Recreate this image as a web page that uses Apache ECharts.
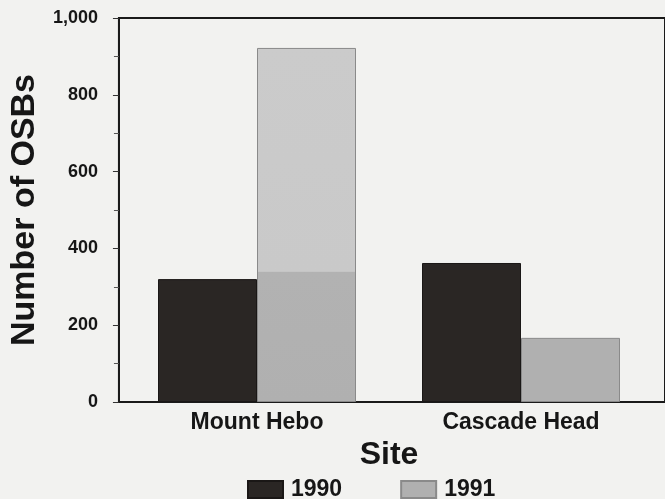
<!DOCTYPE html>
<html>
<head>
<meta charset="utf-8">
<script src="https://cdn.jsdelivr.net/npm/echarts@6/dist/echarts.min.js"></script>
<style>
html,body{margin:0;padding:0;background:#f2f2f0;}
#c{width:665px;height:499px;}
</style>
</head>
<body>
<div id="c"></div>
<script>
const sites = ['Mount Hebo', 'Cascade Head'];
const years = ['1990', '1991'];
const values1990 = [320, 362];
const values1991 = [922, 167];
const yTicks = [0, 200, 400, 600, 800, 1000];

const font = '"Liberation Sans", Arial, sans-serif';
const hatchTop = 340; // scan artefact: darker hatched band height on the tall bar

function bar1991Item(v) {
  if (v <= hatchTop) return { value: v };
  const stop = 1 - hatchTop / v;
  return {
    value: v,
    itemStyle: {
      color: {
        type: 'linear', x: 0, y: 0, x2: 0, y2: 1,
        colorStops: [
          { offset: 0, color: '#cbcbcb' },
          { offset: stop, color: '#c9c9c9' },
          { offset: stop + 0.001, color: '#b2b2b2' },
          { offset: 1, color: '#b0b0b0' }
        ]
      }
    }
  };
}

const chart = echarts.init(document.getElementById('c'));
chart.setOption({
  backgroundColor: '#f2f2f0',
  animation: false,
  grid: [
    { left: 117, right: -6, top: 18, bottom: 97, show: true, borderColor: '#1a1a1a', borderWidth: 2, backgroundColor: 'transparent' },
    { left: 125, right: 12, top: 18, bottom: 97 }
  ],
  xAxis: [
    { gridIndex: 0, type: 'value', show: false, min: 0, max: 1 },
    {
      gridIndex: 1, type: 'category', data: sites,
      axisLine: { show: false }, axisTick: { show: false },
      axisLabel: { fontFamily: font, fontSize: 23, fontWeight: 'bold', color: '#161616', margin: 9 },
      name: 'Site', nameLocation: 'middle', nameGap: 37,
      nameTextStyle: { fontFamily: font, fontSize: 32, fontWeight: 'bold', color: '#161616' }
    }
  ],
  yAxis: [
    {
      gridIndex: 0, type: 'value', min: yTicks[0], max: yTicks[yTicks.length - 1], interval: 200,
      axisLine: { show: true, lineStyle: { color: '#1a1a1a', width: 2 } },
      axisTick: { show: true, length: 6, lineStyle: { color: '#333' } },
      minorTick: { show: true, splitNumber: 2, length: 5, lineStyle: { color: '#555' } },
      splitLine: { show: false },
      axisLabel: {
        fontFamily: font, fontSize: 18, fontWeight: 'bold', color: '#161616', margin: 21,
        formatter: v => v.toLocaleString('en-US')
      },
      name: 'Number of OSBs', nameLocation: 'middle', nameGap: 75,
      nameTextStyle: { fontFamily: font, fontSize: 34, fontWeight: 'bold', color: '#161616' }
    },
    { gridIndex: 1, type: 'value', min: 0, max: 1000, show: false }
  ],
  legend: {
    data: years, left: 247, top: 478, icon: 'rect', itemWidth: 35, itemHeight: 17,
    itemGap: 58, padding: 0,
    textStyle: { fontFamily: font, fontSize: 23, fontWeight: 'bold', color: '#161616', padding: [0, 0, 0, 3] }
  },
  series: [
    {
      name: years[0], type: 'bar', xAxisIndex: 1, yAxisIndex: 1,
      data: values1990, barWidth: 99, barGap: '0%',
      itemStyle: { color: '#2a2624', borderColor: '#1a1716', borderWidth: 1 }
    },
    {
      name: years[1], type: 'bar', xAxisIndex: 1, yAxisIndex: 1,
      data: values1991.map(bar1991Item), barWidth: 99, barGap: '0%',
      itemStyle: { color: '#b0b0b0', borderColor: '#8a8a8a', borderWidth: 1 }
    }
  ]
});
</script>
</body>
</html>
